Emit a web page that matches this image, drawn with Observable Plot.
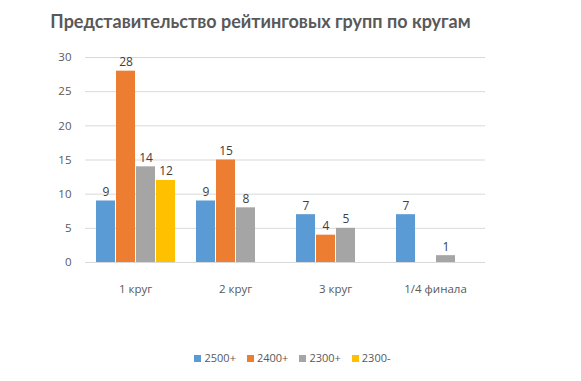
<!DOCTYPE html>
<html>
<head>
<meta charset="utf-8">
<script src="https://cdn.jsdelivr.net/npm/d3@7"></script>
<script src="https://cdn.jsdelivr.net/npm/@observablehq/plot@0.6"></script>
<style>
  body { margin: 0; background: #fff; width: 581px; height: 381px; overflow: hidden; font-family: "Open Sans", sans-serif; }
  #title { height: 44px; line-height: 42px; text-align: center; padding-right: 60px; font-family: Lato, sans-serif; font-weight: bold; font-size: 18px; color: #595959; }
  #legend { display: flex; justify-content: center; gap: 11px; font-size: 11px; color: #595959; margin-top: 11px; margin-left: 4px; }
  #legend span.sw { display: inline-block; width: 7px; height: 7px; margin-right: 3px; vertical-align: 0px; }
</style>
</head>
<body>
<div id="title">Представительство рейтинговых групп по кругам</div>
<div id="chart"></div>
<div id="legend"></div>
<script>
const rounds = ["1 круг", "2 круг", "3 круг", "1/4 финала"];
const groups = ["2500+", "2400+", "2300+", "2300-"];
const v2500p = [9, 9, 7, 7];
const v2400p = [28, 15, 4, null];
const v2300p = [14, 8, 5, 1];
const v2300m = [12, null, null, null];
const yTicks = [0, 5, 10, 15, 20, 25, 30];
const colors = ["#5B9BD5", "#ED7D31", "#A5A5A5", "#FFC000"];

const series = [v2500p, v2400p, v2300p, v2300m];
const data = [];
rounds.forEach((r, i) => {
  groups.forEach((g, j) => {
    const v = series[j][i];
    if (v != null) data.push({round: r, group: g, value: v});
  });
});

const chart = Plot.plot({
  width: 581,
  height: 295,
  marginTop: 13,
  marginBottom: 77,
  marginLeft: 85,
  marginRight: 96,
  style: {fontFamily: "'Open Sans', sans-serif", fontSize: "11.5px", color: "#595959", background: "transparent"},
  fx: {domain: rounds, padding: 0, label: null, axis: "bottom", tickSize: 0, tickPadding: 22},
  x: {domain: groups, axis: null, paddingInner: 0.06, paddingOuter: 0.5},
  y: {domain: [0, 30], ticks: yTicks, tickSize: 0, tickPadding: 14, label: null},
  color: {domain: groups, range: colors},
  marks: [
    Plot.ruleY(yTicks, {stroke: "#d9d9d9"}),
    Plot.barY(data, {fx: "round", x: "group", y: "value", fill: "group"}),
    Plot.text(data, {fx: "round", x: "group", y: "value", text: "value", dy: -9, fill: "#404040", fontSize: 12})
  ]
});
document.getElementById("chart").appendChild(chart);

const legend = document.getElementById("legend");
groups.forEach((g, i) => {
  const item = document.createElement("div");
  item.innerHTML = `<span class="sw" style="background:${colors[i]}"></span>${g}`;
  legend.appendChild(item);
});
</script>
</body>
</html>
